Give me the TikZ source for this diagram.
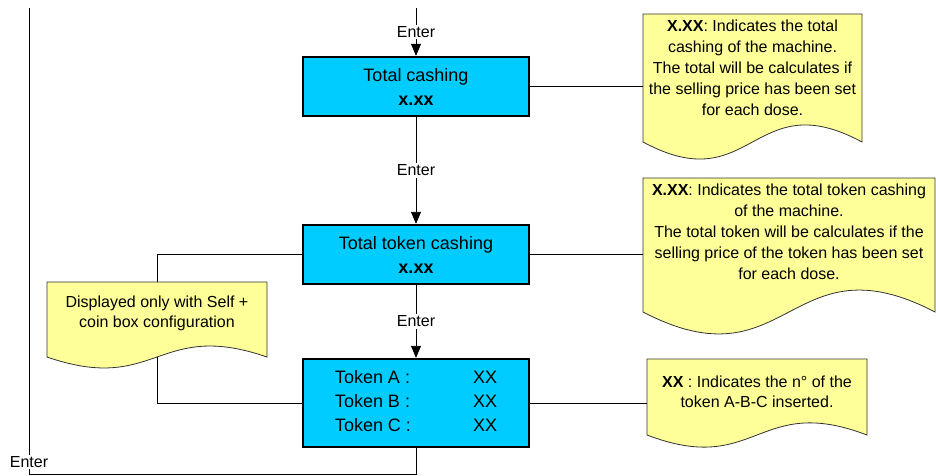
\documentclass[tikz,border=0pt]{standalone}
\usepackage{fontspec}
\setmainfont{Liberation Sans}
\usetikzlibrary{calc,arrows.meta}
\definecolor{boxblue}{RGB}{0,204,255}
\definecolor{noteyellow}{RGB}{255,255,153}
\begin{document}
\begin{tikzpicture}[x=1pt,y=-1pt,
  mainbox/.style={draw=black, line width=2.4pt, fill=boxblue, minimum width=226pt, minimum height=59pt, inner sep=0pt, align=center, font=\fontsize{18}{24}\selectfont},
  notebody/.style={draw=none, inner sep=0pt, outer sep=0pt, anchor=north west},
  notefill/.style={draw=black!80, line width=0.8pt, fill=noteyellow},
  notetext/.style={align=center, inner sep=0pt, font=\fontsize{16}{21}\selectfont},
  conn/.style={draw=black, line width=0.9pt},
  arr/.style={conn, -{Triangle[length=12pt,width=10pt]}},
  lbl/.style={fill=white, inner sep=1.5pt, font=\fontsize{16}{18}\selectfont}
]
\useasboundingbox (0,0) rectangle (936,476);

% main boxes
\node[mainbox] (b1) at (416,86.5) {Total cashing\\\textbf{x.xx}};
\node[mainbox] (b2) at (416,254.5) {Total token cashing\\\textbf{x.xx}};
\node[mainbox, minimum height=88pt] (b3) at (416,403) {\begin{tabular}{@{}l@{\hspace{62pt}}l@{}}Token A : & XX\\ Token B : & XX\\ Token C : & XX\end{tabular}};

% note frames
\node[notebody, minimum width=219pt, minimum height=128pt] (n1) at (643,14) {};
\node[notebody, minimum width=292pt, minimum height=134pt] (n2) at (643,178) {};
\node[notebody, minimum width=220pt, minimum height=75pt] (n3) at (47,282) {};
\node[notebody, minimum width=220pt, minimum height=76pt] (n4) at (647,359) {};

\draw[notefill] (n1.north west) -- (n1.north east) -- (n1.south east)
  .. controls ($(n1.south)+(0,-59)$) and ($(n1.south)+(0,59)$) .. (n1.south west) -- cycle;
\draw[notefill] (n2.north west) -- (n2.north east) -- (n2.south east)
  .. controls ($(n2.south)+(0,-76)$) and ($(n2.south)+(0,76)$) .. (n2.south west) -- cycle;
\draw[notefill] (n3.north west) -- (n3.north east) -- (n3.south east)
  .. controls ($(n3.south)+(0,-38)$) and ($(n3.south)+(0,38)$) .. (n3.south west) -- cycle;
\draw[notefill] (n4.north west) -- (n4.north east) -- (n4.south east)
  .. controls ($(n4.south)+(0,-42)$) and ($(n4.south)+(0,42)$) .. (n4.south west) -- cycle;

% note texts
\node[notetext] (t1) at (752.5,68) {\textbf{X.XX}: Indicates the total\\cashing of the machine.\\The total will be calculates if\\the selling price has been set\\for each dose.};
\node[notetext] (t2) at (789,231.5) {\textbf{X.XX}: Indicates the total token cashing\\of the machine.\\The total token will be calculates if the\\selling price of the token has been set\\for each dose.};
\node[notetext, font=\fontsize{16}{20}\selectfont] (t3) at (157,313) {Displayed only with Self +\\coin box configuration};
\node[notetext, font=\fontsize{16}{20}\selectfont] (t4) at (757,392) {\textbf{XX} : Indicates the n° of the\\token A-B-C inserted.};

% connectors
\coordinate (top) at (416,8);
\draw[arr] (top) -- node[lbl] (e1) {Enter} (b1.north);
\draw[arr] (b1.south) -- node[lbl] (e2) {Enter} (b2.north);
\draw[arr] (b2.south) -- node[lbl] (e3) {Enter} (b3.north);

\draw[conn] (b1.east) -- (b1.east -| n1.west);
\draw[conn] (b2.east) -- (b2.east -| n2.west);
\draw[conn] (b3.east) -- (b3.east -| n4.west);
\draw[conn] (b2.west) -| (n3.north);
\draw[conn] (n3.south) |- (b3.west);

\coordinate (bl) at (29,474);
\coordinate (ret) at (29,8);
\draw[conn] (b3.south) |- (bl) -- (ret);
\node[lbl] (e4) at (29,462) {Enter};
\end{tikzpicture}
\end{document}
